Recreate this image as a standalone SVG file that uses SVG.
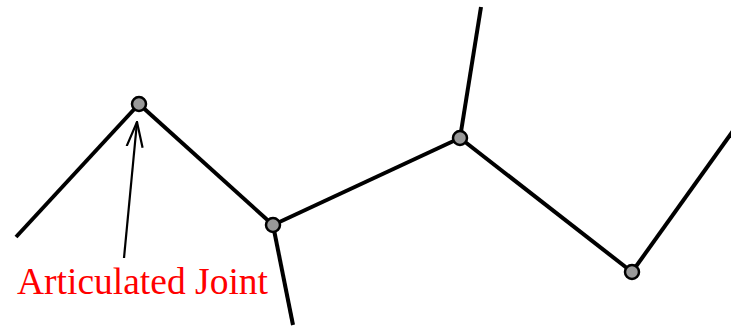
<svg xmlns="http://www.w3.org/2000/svg" width="731" height="327" viewBox="0 0 731 327">
<style>
.seg{stroke:#000;stroke-width:4;fill:none}
.joint{fill:#999;stroke:#000;stroke-width:2.5}
.lbl{font-family:"Liberation Serif","Times New Roman",serif;font-size:37.5px;fill:#f00}
</style>
<defs>
<marker id="ah" viewBox="0 0 26 20" refX="25" refY="10" markerWidth="26" markerHeight="20" markerUnits="userSpaceOnUse" orient="auto">
<path d="M0,2 L25,10 L0,18" fill="none" stroke="#000" stroke-width="2.2"/>
</marker>
</defs>
<g id="connectors">
<line class="seg" x1="16" y1="237" x2="139" y2="104"/>
<line class="seg" x1="139" y1="104" x2="273" y2="225"/>
<line class="seg" x1="273" y1="225" x2="293" y2="325"/>
<line class="seg" x1="273" y1="225" x2="460" y2="138"/>
<line class="seg" x1="460" y1="138" x2="481" y2="7"/>
<line class="seg" x1="460" y1="138" x2="632" y2="272"/>
<line class="seg" x1="632" y1="272" x2="733" y2="131"/>
<line x1="124" y1="258" x2="137" y2="122" stroke="#000" stroke-width="2.2" marker-end="url(#ah)"/>
</g>
<g id="joint1"><circle class="joint" cx="139" cy="104" r="7"/></g>
<g id="joint2"><circle class="joint" cx="273" cy="225" r="7"/></g>
<g id="joint3"><circle class="joint" cx="460" cy="138" r="7"/></g>
<g id="joint4"><circle class="joint" cx="632" cy="272" r="7"/></g>
<g id="label"><text class="lbl" x="17" y="294">Articulated Joint</text></g>
</svg>
